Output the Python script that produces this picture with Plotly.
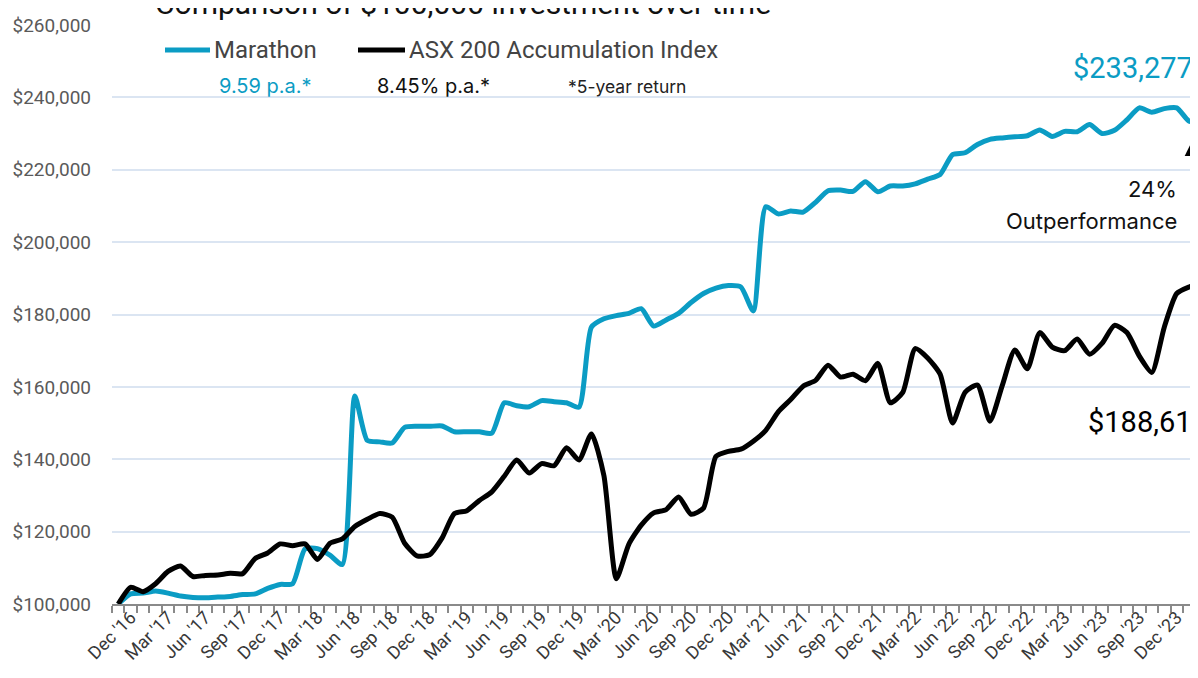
import plotly.graph_objects as go

# ---------------- data (values in $ thousands, monthly from Dec '16) ----------------
marathon = [100.0, 102.8, 103.0, 103.6, 103.0, 102.2, 101.8, 101.7, 101.9, 102.1,
            102.6, 102.8, 104.3, 105.4, 105.6, 115.2, 115.3, 113.5, 110.9, 157.5,
            145.2, 144.8, 144.5, 148.8, 149.1, 149.1, 149.2, 147.6, 147.6, 147.6,
            147.2, 155.6, 154.8, 154.5, 156.2, 155.9, 155.6, 154.4, 176.5, 178.8,
            179.7, 180.3, 181.6, 176.8, 178.5, 180.3, 183.3, 185.8, 187.3, 188.0,
            187.6, 181.0, 209.8, 207.8, 208.6, 208.3, 211.0, 214.2, 214.4, 214.0,
            216.7, 213.9, 215.5, 215.5, 216.1, 217.4, 218.7, 224.2, 224.7, 227.0,
            228.4, 228.8, 229.1, 229.4, 231.0, 229.2, 230.6, 230.5, 232.5, 230.0,
            230.9, 233.8, 237.1, 235.9, 236.9, 237.1, 233.4, 233.277]

asx200 = [100.0, 104.6, 103.4, 105.6, 109.0, 110.5, 107.6, 107.9, 108.0, 108.5,
          108.4, 112.6, 114.1, 116.6, 116.1, 116.6, 112.3, 116.8, 118.0, 121.4,
          123.4, 125.0, 124.0, 116.8, 113.3, 113.6, 118.2, 125.0, 125.8, 128.6,
          131.0, 135.3, 139.8, 136.2, 138.8, 138.2, 143.2, 139.8, 147.0, 135.5,
          107.0, 116.5, 121.8, 125.2, 126.1, 129.6, 124.8, 126.5, 140.8, 142.2,
          142.8, 145.0, 148.0, 153.1, 156.5, 160.2, 161.8, 166.0, 162.7, 163.5,
          161.7, 166.5, 155.6, 158.5, 170.6, 168.0, 163.5, 150.0, 158.5, 160.5,
          150.5, 160.5, 170.2, 165.0, 175.0, 171.0, 170.0, 173.2, 169.0, 172.0,
          177.0, 175.0, 168.5, 164.0, 176.5, 185.8, 187.6, 188.614]

month_index = list(range(len(marathon)))

tick_labels = ["Dec '16", "Mar '17", "Jun '17", "Sep '17", "Dec '17", "Mar '18",
               "Jun '18", "Sep '18", "Dec '18", "Mar '19", "Jun '19", "Sep '19",
               "Dec '19", "Mar '20", "Jun '20", "Sep '20", "Dec '20", "Mar '21",
               "Jun '21", "Sep '21", "Dec '21", "Mar '22", "Jun '22", "Sep '22",
               "Dec '22", "Mar '23", "Jun '23", "Sep '23", "Dec '23"]
tick_months = [3 * i for i in range(len(tick_labels))]

y_ticks = [100000, 120000, 140000, 160000, 180000, 200000, 220000, 240000, 260000]
y_tick_labels = ["$100,000", "$120,000", "$140,000", "$160,000", "$180,000",
                 "$200,000", "$220,000", "$240,000", "$260,000"]

BLUE = "#0b9cc4"
FONT = "Roboto"
FONT2 = "Inter"

# page body has an 8px margin; figure coordinates are page coordinates minus 8
W, H = 1190, 670
L, R, T, B = 104, 0, 17, 74
PW, PH = W - L - R, H - T - B


def px(x):  # page x -> paper
    return (x - 8 - L) / PW


def py(y):  # page y -> paper
    return (H - B - (y - 8)) / PH


fig = go.Figure()
fig.add_trace(go.Scatter(
    x=month_index, y=[v * 1000 for v in marathon], mode="lines", name="Marathon",
    line=dict(color=BLUE, width=5, shape="spline", smoothing=0.6), showlegend=False))
fig.add_trace(go.Scatter(
    x=month_index, y=[v * 1000 for v in asx200], mode="lines",
    name="ASX 200 Accumulation Index",
    line=dict(color="#000000", width=5, shape="spline", smoothing=0.6), showlegend=False))

ppm = 12.453
x_max = -0.5 + PW / ppm

fig.update_layout(
    width=W, height=H,
    margin=dict(l=L, r=R, t=T, b=B, pad=0),
    paper_bgcolor="white", plot_bgcolor="white",
    font=dict(family=FONT, color="#333333"),
    xaxis=dict(
        range=[-0.5, x_max], tickmode="array",
        tickvals=[m + 1.0 for m in tick_months], ticktext=tick_labels,
        tickangle=-45, tickfont=dict(size=18, color="#383838", family=FONT),
        ticks="", ticklen=0, ticklabelstandoff=-6, showgrid=False, zeroline=False,
        showline=True, linecolor="#8a8a8a", linewidth=2,
        minor=dict(ticks="outside", ticklen=7, tickwidth=1.5, tickcolor="#8a8a8a",
                   tick0=-0.5, dtick=1, showgrid=False),
    ),
    yaxis=dict(
        range=[100000, 260000], tickmode="array", tickvals=y_ticks,
        ticktext=y_tick_labels, tickfont=dict(size=19, color="#5a5a5a", family=FONT),
        showgrid=True, gridcolor="#dbe5f2", gridwidth=2, zeroline=False,
        showline=False, ticks="", ticklabelstandoff=20,
    ),
)

# title (cut off at top in the reference)
fig.add_annotation(xref="paper", yref="paper", x=px(463), y=py(3), xanchor="center",
                   yanchor="middle", showarrow=False,
                   text="Comparison of $100,000 investment over time",
                   font=dict(size=30, color="#111111", family=FONT))

# manual legend
fig.add_shape(type="line", xref="paper", yref="paper", x0=px(165), x1=px(210),
              y0=py(50), y1=py(50), line=dict(color=BLUE, width=5))
fig.add_annotation(xref="paper", yref="paper", x=px(212), y=py(50), xanchor="left",
                   yanchor="middle", showarrow=False, text="Marathon",
                   font=dict(size=24, color="#444444", family=FONT))
fig.add_shape(type="line", xref="paper", yref="paper", x0=px(358), x1=px(405),
              y0=py(50), y1=py(50), line=dict(color="#000000", width=5))
fig.add_annotation(xref="paper", yref="paper", x=px(407), y=py(50), xanchor="left",
                   yanchor="middle", showarrow=False, text="ASX 200 Accumulation Index",
                   font=dict(size=24, color="#444444", family=FONT))

fig.add_annotation(xref="paper", yref="paper", x=px(217), y=py(86), xanchor="left",
                   yanchor="middle", showarrow=False, text="9.59 p.a.*",
                   font=dict(size=20, color=BLUE, family=FONT2))
fig.add_annotation(xref="paper", yref="paper", x=px(375), y=py(86), xanchor="left",
                   yanchor="middle", showarrow=False, text="8.45% p.a.*",
                   font=dict(size=20, color="#111111", family=FONT2))
fig.add_annotation(xref="paper", yref="paper", x=px(566), y=py(86), xanchor="left",
                   yanchor="middle", showarrow=False, text="*5-year return",
                   font=dict(size=17.5, color="#222222", family=FONT2))

# end-value labels
fig.add_annotation(xref="paper", yref="paper", x=px(1195), y=py(68), xanchor="right",
                   yanchor="middle", showarrow=False, text="$233,277",
                   font=dict(size=29, color=BLUE, family=FONT))
fig.add_annotation(xref="paper", yref="paper", x=px(1086), y=py(422), xanchor="left",
                   yanchor="middle", showarrow=False, text="$188,614",
                   font=dict(size=29, color="#000000", family=FONT))
fig.add_annotation(xref="paper", yref="paper", x=px(1179), y=py(189), xanchor="right",
                   yanchor="middle", showarrow=False, text="24%",
                   font=dict(size=22, color="#111111", family=FONT2))
fig.add_annotation(xref="paper", yref="paper", x=px(1179), y=py(221), xanchor="right",
                   yanchor="middle", showarrow=False, text="Outperformance",
                   font=dict(size=22, color="#111111", family=FONT2))

# upward arrow between the series at the right edge (mostly cropped)
fig.add_annotation(xref="paper", yref="paper", x=px(1207), y=py(131), ax=0, ay=140,
                   axref="pixel", ayref="pixel", text="", showarrow=True,
                   arrowhead=2, arrowside="end", arrowsize=2.0, arrowwidth=2.5,
                   arrowcolor="#000000")

fig.write_html("out.html")
